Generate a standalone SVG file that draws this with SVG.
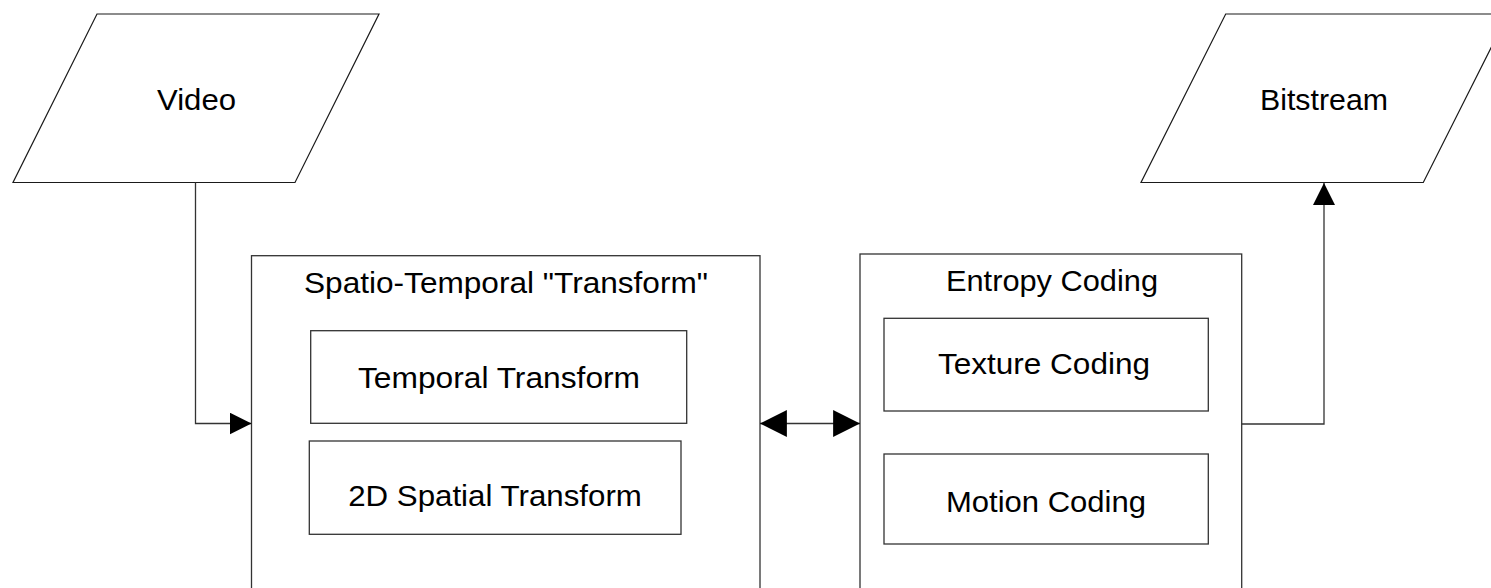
<svg xmlns="http://www.w3.org/2000/svg" width="1491" height="588" viewBox="0 0 1491 588">
<style>
.shape{fill:#fff;stroke:#333;stroke-width:1.3}
.io{fill:#fff;stroke:#1a1a1a;stroke-width:1.2}
.lbl{font-family:"Liberation Sans",Arial,sans-serif;font-size:30px;fill:#000;text-anchor:middle}
.conn{fill:none;stroke:#333;stroke-width:1.3}
</style>
<defs>
<marker id="arrS" markerUnits="userSpaceOnUse" markerWidth="22" markerHeight="22" refX="21" refY="10.5" orient="auto-start-reverse" viewBox="0 0 21 21">
<path d="M0,0 L21,10.5 L0,21 Z" fill="#000"/>
</marker>
<marker id="arrL" markerUnits="userSpaceOnUse" markerWidth="27" markerHeight="27" refX="26.5" refY="13.3" orient="auto-start-reverse" viewBox="0 0 26.5 26.6">
<path d="M0,0 L26.5,13.3 L0,26.6 Z" fill="#000"/>
</marker>
</defs>
<rect width="1491" height="588" fill="#fff"/>
<g id="video">
<polygon class="io" points="97,14 379,14 295,182.5 13,182.5"/>
<text class="lbl" x="196.5" y="110" textLength="79" lengthAdjust="spacingAndGlyphs">Video</text>
</g>
<g id="bitstream">
<polygon class="io" points="1225.7,14 1508,14 1423.3,182.5 1141,182.5"/>
<text class="lbl" x="1324" y="110" textLength="128" lengthAdjust="spacingAndGlyphs">Bitstream</text>
</g>
<g id="spatio-temporal">
<rect class="shape" x="251.5" y="255.7" width="508.5" height="400"/>
<text class="lbl" x="506" y="293" textLength="404" lengthAdjust="spacingAndGlyphs">Spatio-Temporal "Transform"</text>
</g>
<g id="temporal-transform">
<rect class="shape" x="310.7" y="330.7" width="376" height="92.6"/>
<text class="lbl" x="499" y="388" textLength="282" lengthAdjust="spacingAndGlyphs">Temporal Transform</text>
</g>
<g id="spatial-transform">
<rect class="shape" x="309.3" y="441" width="371.7" height="93.3"/>
<text class="lbl" x="495" y="505.7" textLength="293.7" lengthAdjust="spacingAndGlyphs">2D Spatial Transform</text>
</g>
<g id="entropy-coding">
<rect class="shape" x="860" y="254" width="381.7" height="400"/>
<text class="lbl" x="1052" y="291" textLength="212" lengthAdjust="spacingAndGlyphs">Entropy Coding</text>
</g>
<g id="texture-coding">
<rect class="shape" x="884" y="318.3" width="324.3" height="92.7"/>
<text class="lbl" x="1044" y="374" textLength="212" lengthAdjust="spacingAndGlyphs">Texture Coding</text>
</g>
<g id="motion-coding">
<rect class="shape" x="884" y="454" width="324.3" height="90"/>
<text class="lbl" x="1046" y="511.7" textLength="200" lengthAdjust="spacingAndGlyphs">Motion Coding</text>
</g>
<g id="connectors">
<polyline class="conn" points="195.5,182.5 195.5,423.5 251.5,423.5" marker-end="url(#arrS)"/>
<line class="conn" x1="760" y1="423.5" x2="860" y2="423.5" marker-start="url(#arrL)" marker-end="url(#arrL)"/>
<polyline class="conn" points="1241.7,424 1324,424 1324,183" marker-end="url(#arrS)"/>
</g>
</svg>
